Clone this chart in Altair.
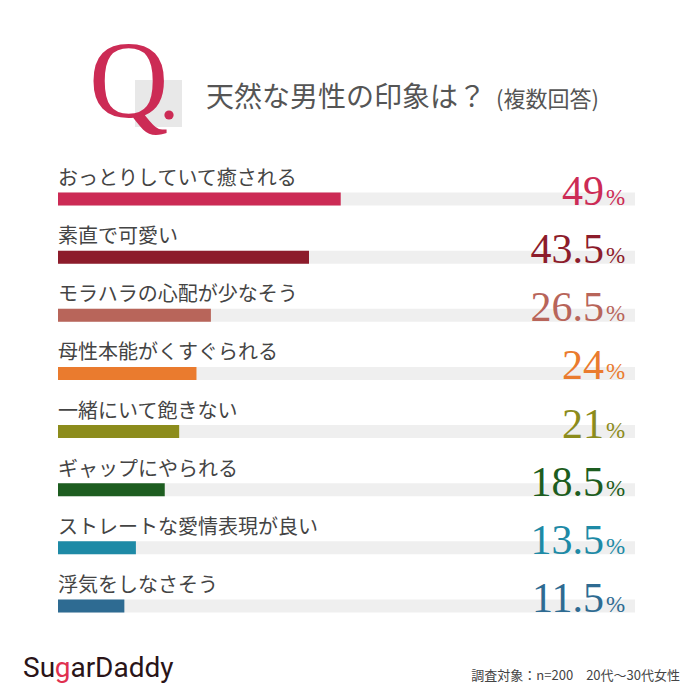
import altair as alt
import pandas as pd

categories = [
    "おっとりしていて癒される",
    "素直で可愛い",
    "モラハラの心配が少なそう",
    "母性本能がくすぐられる",
    "一緒にいて飽きない",
    "ギャップにやられる",
    "ストレートな愛情表現が良い",
    "浮気をしなさそう",
]
values = [49, 43.5, 26.5, 24, 21, 18.5, 13.5, 11.5]
value_labels = ["49", "43.5", "26.5", "24", "21", "18.5", "13.5", "11.5"]
colors = ["#cc2b55", "#8d1c2b", "#b8655a", "#ea7b2e", "#8c8c1c", "#1d5d20", "#1e8aa6", "#2e6b92"]

title_text = "天然な男性の印象は？"
subtitle_text = "(複数回答)"
footer_text = "調査対象：n=200　20代〜30代女性"

df = pd.DataFrame({
    "cat": categories,
    "value": values,
    "label": value_labels,
    "rank": list(range(len(categories))),
    "start": [0] * len(categories),
    "full": [100] * len(categories),
})

xs = alt.Scale(domain=[0, 100], range=[50, 627])
ys = alt.Scale(domain=[0, 7], range=[191, 598])
cs = alt.Scale(domain=categories, range=colors)

base = alt.Chart(df)
Y = alt.Y("rank:Q", scale=ys, axis=None)

track = base.mark_rule(strokeWidth=13, strokeCap="butt", color="#efefef").encode(
    x=alt.X("start:Q", scale=xs, axis=None), x2="full:Q", y=Y
)
bars = base.mark_rule(strokeWidth=13, strokeCap="butt").encode(
    x=alt.X("start:Q", scale=xs, axis=None), x2="value:Q", y=Y,
    color=alt.Color("cat:N", scale=cs, legend=None),
)
cat_text = base.mark_text(align="left", baseline="alphabetic", dy=-14, fontSize=20,
                          font="Noto Sans CJK JP", color="#444444").encode(
    x=alt.value(50), y=Y, text="cat:N"
)
num_text = base.mark_text(align="right", baseline="alphabetic", dy=6, fontSize=42,
                          font="Liberation Serif").encode(
    x=alt.value(596), y=Y, text="label:N",
    color=alt.Color("cat:N", scale=cs, legend=None),
)
pct_text = base.mark_text(align="left", baseline="alphabetic", dy=6, fontSize=23,
                          font="Liberation Serif").encode(
    x=alt.value(598), y=Y, text=alt.value("%"),
    color=alt.Color("cat:N", scale=cs, legend=None),
)

one = alt.Chart(pd.DataFrame({"a": [0]}))
qbox = one.mark_rect(color="#e8e8e8").encode(
    x=alt.value(127), x2=alt.value(174), y=alt.value(72), y2=alt.value(119)
)
qmark = one.mark_text(align="left", baseline="alphabetic", fontSize=110,
                      font="Liberation Serif", color="#cc2b55").encode(
    x=alt.value(81), y=alt.value(109), text=alt.value("Q")
)
qdot = one.mark_point(filled=True, shape="circle", size=85, color="#cc2b55", opacity=1).encode(
    x=alt.value(161), y=alt.value(107)
)
title = one.mark_text(align="left", baseline="alphabetic", fontSize=28,
                      font="Noto Sans CJK JP", color="#555555").encode(
    x=alt.value(198), y=alt.value(99), text=alt.value(title_text)
)
subtitle = one.mark_text(align="left", baseline="alphabetic", fontSize=22,
                         font="Noto Sans CJK JP", color="#555555").encode(
    x=alt.value(488), y=alt.value(99), text=alt.value(subtitle_text)
)
logo1 = one.mark_text(align="left", baseline="alphabetic", fontSize=28,
                      font="Roboto", color="#2a1418").encode(
    x=alt.value(15), y=alt.value(669), text=alt.value("Su")
)
logo2 = one.mark_text(align="left", baseline="alphabetic", fontSize=28,
                      font="Roboto", color="#e0304f").encode(
    x=alt.value(46.7), y=alt.value(669), text=alt.value("g")
)
logo3 = one.mark_text(align="left", baseline="alphabetic", fontSize=28,
                      font="Roboto", color="#2a1418").encode(
    x=alt.value(62.4), y=alt.value(669), text=alt.value("arDaddy")
)
footer = one.mark_text(align="right", baseline="alphabetic", fontSize=13,
                       font="Noto Sans CJK JP", color="#444444").encode(
    x=alt.value(672), y=alt.value(672), text=alt.value(footer_text)
)

chart = alt.layer(
    track, bars, cat_text, num_text, pct_text,
    qbox, qmark, qdot, title, subtitle, logo1, logo2, logo3, footer
).properties(
    width=684, height=684, autosize=alt.AutoSizeParams(type="none"), padding=0,
    background="white"
).configure_view(stroke=None)

chart.save("out.html", embed_options={"renderer": "svg", "actions": False})
